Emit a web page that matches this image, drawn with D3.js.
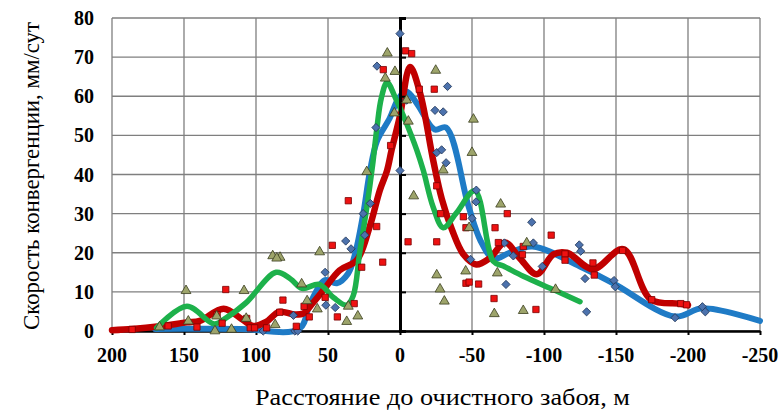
<!DOCTYPE html>
<html lang="ru">
<head>
  <meta charset="utf-8">
  <title>Скорость конвергенции</title>
  <script src="https://d3js.org/d3.v7.min.js" charset="utf-8"></script>
  <style>
    body { margin: 0; background: #fff; }
    text { font-family: "Liberation Serif", "Times New Roman", serif; }
  </style>
  <script type="text/javascript">
    // axis ticks
    var xTicks = [200, 150, 100, 50, 0, -50, -100, -150, -200, -250];
    var yTicks = [0, 10, 20, 30, 40, 50, 60, 70, 80];

    // smoothed trend lines: [distance, rate]
    var blueLine = [[170,0.5],[140,0.6],[110,0.5],[70,0.5],[62.5,7],[52,13],[44,12.2],[36,14.7],[31,20],
      [25.5,30],[20.8,41],[16,48.5],[7,54.5],[1,59.5],[-4.5,61.2],[-12,58],[-24,51.5],[-32,52],[-47.5,32],
      [-56,23],[-65,18.5],[-76,20],[-92,21.6],[-125,16.5],[-148,12.2],[-191,3.7],[-210,5.8],[-250,2.6]];
    var redLine = [[200,0.2],[186,0.5],[167,1.2],[148,2.2],[139,2.6],[122.5,5.7],[109,2.8],[102,1.3],[93,2.3],
      [84,4.9],[73,4.2],[67,4.5],[62,6.5],[53,10.5],[42,15.5],[30,18.1],[21,26.7],[14,36],[9,41],[5.8,46.3],
      [0,55],[-7,67.5],[-14,60.7],[-23,43.7],[-29,33.8],[-36,26],[-44,19.6],[-53,17],[-62.5,18.7],[-73,22.6],
      [-83,18.7],[-95,14.5],[-106.5,19.6],[-116,20],[-134,15.8],[-155,20.9],[-174,8.1],[-194,7],[-200,6.6]];
    var greenLine = [[169,0.8],[148,6.3],[129,1.8],[121,3.3],[107,7.2],[86,15],[76,13.3],[68,10.9],[56,11.9],
      [46,8.5],[37,6.6],[32.5,9],[28,20],[23,31.7],[19,42.5],[16,52],[13,59.5],[9,63.5],[2.5,59],[-3.5,54],
      [-11.6,46.3],[-16.2,41],[-23,31.7],[-30,26.4],[-39.4,30.3],[-52,35.8],[-64.8,17.8],[-71.8,16.6],
      [-85.6,14],[-107.6,10.4],[-125,7.5]];

    // measured points
    var bluePoints = [[95,0],[74,4],[73,0],[71,0],[52,15],[51.5,6.6],[45,6],[37.7,23],[34,21],[24.5,24.5],
      [25.6,30],[20.6,32.6],[16.7,52],[16,67.7],[0,41],[0,76],[-4.6,59],[-24.3,56.4],[-30,56],[-33,62.5],
      [-25.5,45.6],[-28.9,46.3],[-32,43],[-53,36],[-52.8,33],[-50,28.8],[-49,18.3],[-73.6,11.9],[-72.5,22.5],
      [-78.7,19.2],[-91.5,27.8],[-92.6,22.5],[-98.8,16.5],[-124.5,22],[-125.5,20.4],[-128.5,13.4],
      [-129.6,4.9],[-148.6,12.9],[-149.5,11.3],[-191,3.4],[-210,6.2],[-212,4.9]];
    var redPoints = [[186,0.4],[161,1.3],[141,1],[121,10.6],[127,4.2],[123.5,2],[106.5,3.2],[104,0.8],[101,0.8],
      [92.6,0.8],[81.3,7.9],[83.5,4.8],[72,1.2],[66.6,6.3],[63,3.6],[52,8.6],[47,21.9],[43.5,3.6],[35.9,33.3],
      [31.8,7],[26.6,16.3],[16.2,26.7],[12,17.6],[6.5,47.4],[11.6,66.8],[-3.9,71.6],[-8.1,70.9],[-13.4,61.8],
      [-23.8,61.8],[-5.6,22.8],[-25.5,37.1],[-28.2,30],[-25.5,22.8],[-44,29.2],[-45.8,26.4],[-45.8,12.2],
      [-48,12.5],[-54.6,12],[-66,26.4],[-65.3,8.3],[-74.5,30],[-68.3,22.6],[-85.6,21.6],[-85,19.5],
      [-94.4,5.5],[-105,24.5],[-114.6,19.7],[-114.6,18.1],[-134,17.4],[-134.9,14.3],[-154.6,20.6],
      [-174.8,8],[-195,7],[-199,6.7]];
    var greenPoints = [[167,1],[148.6,10.3],[147,2.5],[128.5,0],[127.3,3.8],[117,0.4],[108.3,10.3],[106.8,3.2],
      [88.4,19.2],[83.3,18.8],[85.6,18.6],[86.7,1.6],[68.3,12],[64.5,7.7],[57.4,5.6],[55.8,20.2],[37,2.4],
      [35.9,6.3],[29.3,3.8],[23.1,40.7],[10.2,64.6],[8.8,71],[3.5,66.3],[3.9,55.7],[-4.6,59],[-5.8,53.6],
      [-9.5,34.5],[-24.8,66.6],[-30,41.1],[-25.5,14.3],[-27.8,10.7],[-30.8,7.6],[-51,54.1],[-50,45.6],
      [-45.6,15.3],[-48,26.4],[-69.9,32.4],[-67.6,14.8],[-65.5,4.4],[-88,22.5],[-85.6,5.2],[-108,10.6]];
  </script>
</head>

<body>
  <svg id="chart" width="779" height="419"></svg>

  <script type="text/javascript">
  var svg = d3.select("#chart");
  var mLeft = 112, mRight = 760, mTop = 18, mBottom = 331;

  var x = d3.scaleLinear().domain([200, -250]).range([mLeft, mRight]);
  var y = d3.scaleLinear().domain([0, 80]).range([mBottom, mTop]);

  // grid
  var grid = svg.append("g").attr("stroke", "#7f7f7f").attr("stroke-width", 1.3);
  grid.selectAll("line.v").data(xTicks).enter().append("line")
    .attr("x1", function(d){ return x(d); }).attr("x2", function(d){ return x(d); })
    .attr("y1", mTop).attr("y2", mBottom);
  grid.selectAll("line.h").data(yTicks).enter().append("line")
    .attr("x1", mLeft).attr("x2", mRight)
    .attr("y1", function(d){ return y(d); }).attr("y2", function(d){ return y(d); });

  // x axis along the bottom, labels drawn separately
  var xAxis = d3.axisBottom(x).tickValues(xTicks).tickSize(4).tickSizeOuter(0).tickFormat("");
  svg.append("g").attr("transform", "translate(0," + mBottom + ")").call(xAxis)
    .call(function(g){
      g.select(".domain").attr("stroke", "#000").attr("stroke-width", 2.5);
      g.selectAll(".tick line").attr("stroke", "#000").attr("stroke-width", 2);
    });

  svg.append("g").selectAll("text").data(xTicks).enter().append("text")
    .attr("x", function(d){ return x(d); }).attr("y", 362)
    .attr("text-anchor", "middle").attr("font-size", 20).attr("font-weight", "bold")
    .text(function(d){ return d; });

  svg.append("g").selectAll("text").data(yTicks).enter().append("text")
    .attr("x", 94).attr("y", function(d){ return y(d) + 7; })
    .attr("text-anchor", "end").attr("font-size", 20).attr("font-weight", "bold")
    .text(function(d){ return d; });

  // trend lines
  var line = d3.line()
    .x(function(d){ return x(d[0]); })
    .y(function(d){ return y(d[1]); })
    .curve(d3.curveCatmullRom.alpha(0.5));

  var lines = [[blueLine, "#1f7bc6", 6], [redLine, "#c00000", 6.5], [greenLine, "#1db14b", 5.5]];
  svg.append("g").selectAll("path").data(lines).enter().append("path")
    .attr("d", function(d){ return line(d[0]); })
    .attr("fill", "none").attr("stroke", function(d){ return d[1]; })
    .attr("stroke-width", function(d){ return d[2]; })
    .attr("stroke-linejoin", "round").attr("stroke-linecap", "round");

  // y axis through zero, ticks pointing right
  var yAxis = d3.axisRight(y).tickValues(yTicks).tickSize(6).tickSizeOuter(6).tickFormat("");
  svg.append("g").attr("transform", "translate(" + x(0) + ",0)").call(yAxis)
    .call(function(g){
      g.select(".domain").attr("stroke", "#000").attr("stroke-width", 3);
      g.selectAll(".tick line").attr("stroke", "#000").attr("stroke-width", 2);
    });

  // scatter markers
  function markers(data, type, size, fill, stroke, rot) {
    svg.append("g").selectAll("path").data(data).enter().append("path")
      .attr("d", d3.symbol().type(type).size(size))
      .attr("transform", function(d){ return "translate(" + x(d[0]) + "," + y(d[1]) + ")" + (rot ? " rotate(45)" : ""); })
      .attr("fill", fill).attr("stroke", stroke).attr("stroke-width", 0.8);
  }
  markers(bluePoints, d3.symbolSquare, 34, "#4c72ad", "#22375a", true);
  markers(redPoints, d3.symbolSquare, 40, "#ee1111", "#7a0000", false);
  markers(greenPoints, d3.symbolTriangle, 42, "#9da46b", "#3a3d1e", false);

  // titles
  svg.append("text").attr("x", 255).attr("y", 405)
    .attr("font-size", 24).attr("textLength", 375).attr("lengthAdjust", "spacingAndGlyphs")
    .text("Расстояние до очистного забоя, м");
  svg.append("text").attr("transform", "translate(39,176) rotate(-90)").attr("x", -154)
    .attr("font-size", 23).attr("textLength", 308).attr("lengthAdjust", "spacingAndGlyphs")
    .text("Скорость конвергенции, мм/сут");
  </script>
</body>

</html>
